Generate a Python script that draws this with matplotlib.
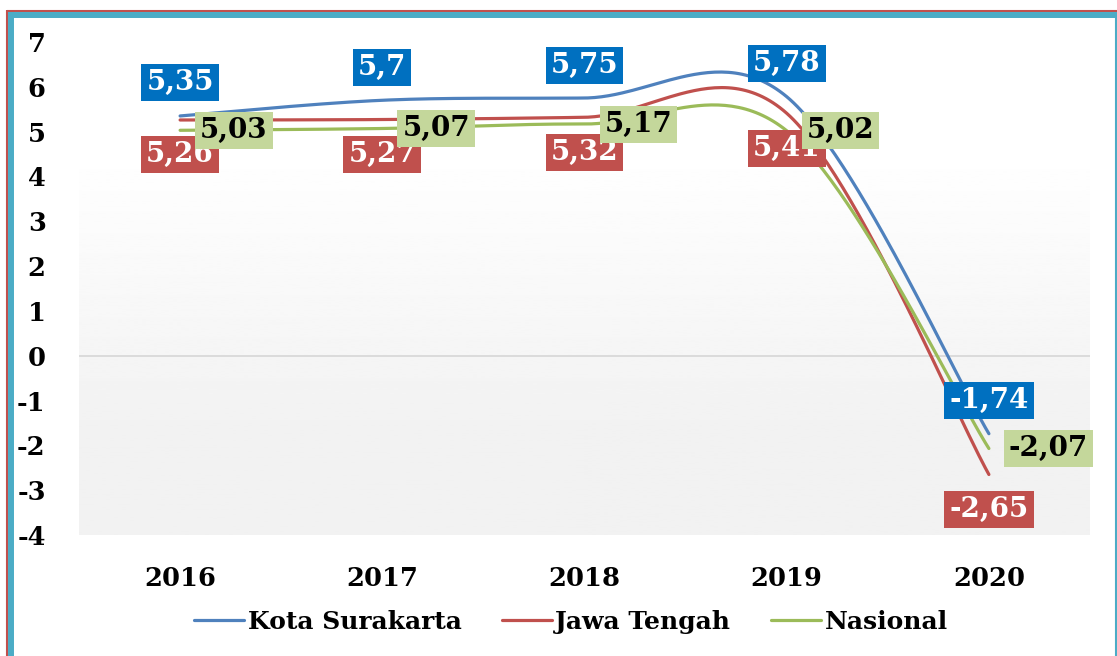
import numpy as np
import matplotlib.pyplot as plt
from matplotlib.lines import Line2D

plt.rcParams['axes.unicode_minus'] = False

tahun = ['2016', '2017', '2018', '2019', '2020']
kota_surakarta = [5.35, 5.70, 5.75, 5.78, -1.74]
jawa_tengah = [5.26, 5.27, 5.32, 5.41, -2.65]
nasional = [5.03, 5.07, 5.17, 5.02, -2.07]
y_ticks = [7, 6, 5, 4, 3, 2, 1, 0, -1, -2, -3, -4]

FONT = 'DejaVu Serif'


def smooth(xs, ys, n=60):
    # bezier ala Excel (catmull-rom, faktor 1/6)
    xs = np.asarray(xs, float)
    ys = np.asarray(ys, float)
    px, py = [], []
    k = len(xs)
    for i in range(k - 1):
        i0 = max(i - 1, 0)
        i3 = min(i + 2, k - 1)
        c1x = xs[i] + (xs[i + 1] - xs[i0]) / 6
        c1y = ys[i] + (ys[i + 1] - ys[i0]) / 6
        c2x = xs[i + 1] - (xs[i3] - xs[i]) / 6
        c2y = ys[i + 1] - (ys[i3] - ys[i]) / 6
        t = np.linspace(0, 1, n)
        a, b, c, d = (1 - t) ** 3, 3 * (1 - t) ** 2 * t, 3 * (1 - t) * t ** 2, t ** 3
        px.extend(a * xs[i] + b * c1x + c * c2x + d * xs[i + 1])
        py.extend(a * ys[i] + b * c1y + c * c2y + d * ys[i + 1])
    return px, py


fig = plt.figure(figsize=(11.17, 6.56), dpi=100)
W, H = 1117, 656
ax = fig.add_axes([79 / W, 1 - 535 / H, (1090 - 79) / W, (535 - 42) / H])
ax.set_xlim(-0.5, 4.5)
ax.set_ylim(-4, 7)

# latar gradasi
grad = np.interp(np.linspace(7, -4, 200), [-4, -1.5, 4.6, 7], [0.949, 0.949, 1.0, 1.0])
ax.imshow(grad.reshape(-1, 1), cmap='gray', vmin=0, vmax=1, aspect='auto',
          extent=(-0.5, 4.5, -4, 7), zorder=0)
ax.axhline(0, color='#d9d9d9', lw=1.3, zorder=1)

x = np.arange(len(tahun))
seri = [
    ('Kota Surakarta', kota_surakarta, '#4f81bd', '#0070c0', 'white', (0, 33), 'center'),
    ('Jawa Tengah', jawa_tengah, '#c0504d', '#c0504d', 'white', (0, -35), 'center'),
    ('Nasional', nasional, '#9bbb59', '#c4d79b', 'black', (20, 0), 'left'),
]
for i, (nama, nilai, warna, kotak, teks, off, ha) in enumerate(seri):
    sx, sy = smooth(x, nilai)
    ax.plot(sx, sy, color=warna, lw=2.3, label=nama, solid_capstyle='round', zorder=2)
    for xi, v in zip(x, nilai):
        ax.annotate(str(v).replace('.', ','), (xi, v), xytext=off, textcoords='offset pixels',
                    ha=ha, va='center', fontsize=20, fontweight='bold', family=FONT,
                    color=teks, zorder=5 + i, annotation_clip=False,
                    bbox=dict(boxstyle='square,pad=0.18', fc=kotak, ec='none'))

ax.set_xticks(x)
ax.set_xticklabels(tahun)
ax.set_yticks(y_ticks)
ax.tick_params(length=0, labelsize=18.5)
ax.tick_params(axis='x', pad=22)
ax.tick_params(axis='y', pad=24)
for lab in ax.get_xticklabels() + ax.get_yticklabels():
    lab.set_fontfamily(FONT)
    lab.set_fontweight('bold')
for s in ax.spines.values():
    s.set_visible(False)

ax.legend(loc='center', bbox_to_anchor=(571 / W, 1 - 622 / H), bbox_transform=fig.transFigure,
          ncol=3, frameon=False, handlelength=2.0, handletextpad=0.15, columnspacing=1.6,
          prop={'family': FONT, 'weight': 'bold', 'size': 18})

# bingkai
def garis(xp, yp, warna, lw):
    fig.add_artist(Line2D([p / W for p in xp], [1 - p / H for p in yp],
                          color=warna, lw=lw, transform=fig.transFigure, solid_capstyle='butt'))

garis([7, W], [10.5, 10.5], '#c0504d', 1.5)
garis([7, 7], [10, H], '#c0504d', 1.5)
garis([8, W], [14.5, 14.5], '#4bacc6', 4.3)
garis([10.5, 10.5], [12, H], '#4bacc6', 4.3)
garis([1116, 1116], [12, H], '#4bacc6', 1.5)

fig.savefig('out.png', dpi=100)
